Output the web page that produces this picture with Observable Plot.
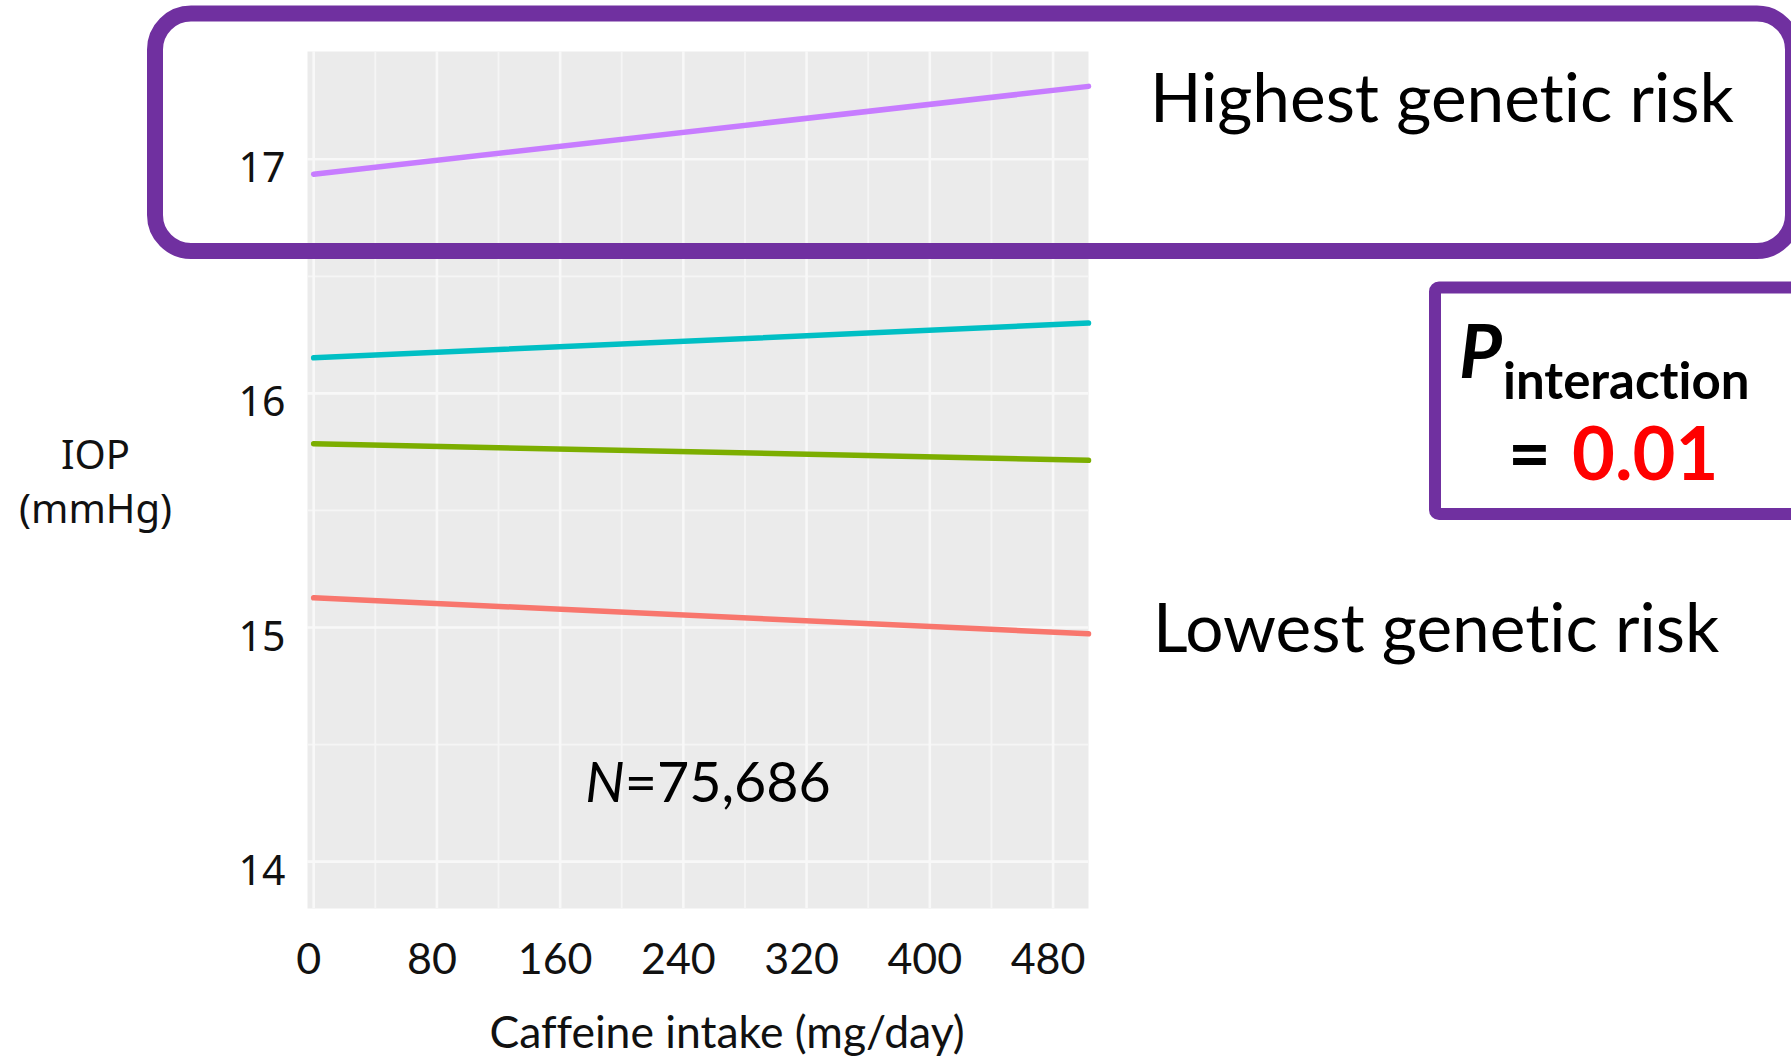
<!DOCTYPE html>
<html>
<head>
<meta charset="utf-8">
<script src="https://cdn.jsdelivr.net/npm/d3@7"></script>
<script src="https://cdn.jsdelivr.net/npm/@observablehq/plot@0.6"></script>
<style>
  html, body { margin: 0; padding: 0; background: #fff; }
  #wrap { position: relative; width: 1791px; height: 1058px; overflow: hidden; background: #fff; }
  #wrap svg { font-variant-ligatures: none; font-feature-settings: "liga" 0, "clig" 0; }
  #wrap > svg.overlay { position: absolute; left: 0; top: 0; pointer-events: none; }
</style>
</head>
<body>
<div id="wrap"></div>
<script>
// ---- data ----
const caffeine = [0, 503];                       // mg/day, line end points
const groups = ["Lowest genetic risk", "Second", "Third", "Highest genetic risk"];
const iopAtStart = [15.127, 15.785, 16.152, 16.936];
const iopAtEnd   = [14.973, 15.714, 16.300, 17.311];
const groupColors = ["#F8766D", "#7CAE00", "#00BFC4", "#C77CFF"];
const xTicks = [0, 80, 160, 240, 320, 400, 480];
const xMinor = [40, 120, 200, 280, 360, 440];
const yTicks = [14, 15, 16, 17];
const yMinor = [14.5, 15.5, 16.5];
const xTitle = "Caffeine intake (mg/day)";
const yTitle = "IOP\n(mmHg)";
const sampleN = "75,686";
const pValue = "0.01";

const rows = groups.flatMap((g, i) => caffeine.map((c, j) => ({
  group: g, caffeine: c, iop: j === 0 ? iopAtStart[i] : iopAtEnd[i]
})));

const W = 1791, H = 1058;
const chart = Plot.plot({
  width: W, height: H,
  marginLeft: 307, marginRight: W - 1088, marginTop: 51, marginBottom: H - 908,
  style: { fontFamily: "Lato, sans-serif", background: "white", color: "#111" },
  x: { domain: [-4, 503], axis: null },
  y: { domain: [13.8, 17.46], axis: null },
  color: { domain: groups, range: groupColors },
  marks: [
    Plot.frame({ fill: "#EBEBEB", stroke: null }),
    Plot.ruleY(yMinor, { stroke: "#F5F5F5", strokeWidth: 1.8 }),
    Plot.ruleX(xMinor, { stroke: "#F5F5F5", strokeWidth: 1.8 }),
    Plot.ruleY(yTicks, { stroke: "#F8F8F8", strokeWidth: 2.6 }),
    Plot.ruleX(xTicks, { stroke: "#F8F8F8", strokeWidth: 2.6 }),
    Plot.line(rows, { x: "caffeine", y: "iop", z: "group", stroke: "group", strokeWidth: 5.5 }),
    Plot.axisX(xTicks, { tickSize: 0, tickPadding: 35, dx: -5, fontSize: 43, fontFamily: "Lato", fill: "#111", label: null }),
    Plot.axisY(yTicks, { tickSize: 0, tickPadding: 22, dy: 10, fontSize: 41, fontFamily: "Noto Sans", fill: "#111", label: null, tickFormat: d => String(d) }),
    Plot.text([xTitle], { frameAnchor: "bottom", lineAnchor: "middle", dx: 29, dy: 125, fontSize: 44.5, fontFamily: "Lato", fill: "#111" }),
    Plot.text([yTitle], { frameAnchor: "left", textAnchor: "middle", lineAnchor: "middle", dx: -212, dy: -1.5, lineHeight: 1.35, fontSize: 40, fontFamily: "Noto Sans", fill: "#111" })
  ]
});
const wrap = document.getElementById("wrap");
wrap.appendChild(chart);

// ---- annotations (boxes and labels) ----
const ov = d3.select(wrap).append("svg").attr("class", "overlay").attr("width", W).attr("height", H);
const purple = "#7030A0";
ov.append("rect").attr("x", 155).attr("y", 13.5).attr("width", 1638).attr("height", 237.5)
  .attr("rx", 36).attr("fill", "none").attr("stroke", purple).attr("stroke-width", 16);
ov.append("rect").attr("x", 1435).attr("y", 287.5).attr("width", 420).attr("height", 226.5)
  .attr("rx", 4).attr("fill", "none").attr("stroke", purple).attr("stroke-width", 12);

ov.append("text").attr("x", 1150).attr("y", 122).attr("font-family", "Lato").attr("font-size", 67.5)
  .attr("fill", "#000").text(groups[3]);
ov.append("text").attr("x", 1153).attr("y", 652).attr("font-family", "Lato").attr("font-size", 67.5)
  .attr("fill", "#000").text(groups[0]);

const nt = ov.append("text").attr("x", 708).attr("y", 802).attr("text-anchor", "middle")
  .attr("font-family", "Lato").attr("font-size", 55.6).attr("fill", "#000");
nt.append("tspan").attr("font-style", "italic").text("N");
nt.append("tspan").text("=" + sampleN);

ov.append("text").attr("x", 1459).attr("y", 378).attr("font-family", "Lato").attr("font-weight", 700)
  .attr("font-style", "italic").attr("font-size", 74).attr("fill", "#000").text("P");
ov.append("text").attr("x", 1503).attr("y", 399).attr("font-family", "Lato").attr("font-weight", 700)
  .attr("font-size", 51).attr("fill", "#000").text("interaction");
const pv = ov.append("text").attr("y", 480).attr("font-family", "Lato").attr("font-weight", 700)
  .attr("font-size", 74);
pv.append("tspan").attr("x", 1508).attr("fill", "#000").text("=");
pv.append("tspan").attr("x", 1572).attr("fill", "#FF0000").text(pValue);
</script>
</body>
</html>
